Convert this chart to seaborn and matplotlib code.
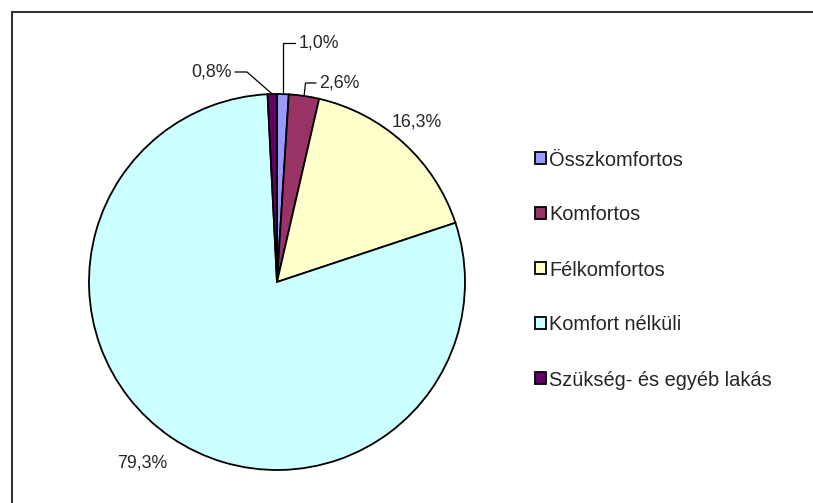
"""Lakásállomány komfortfokozat szerint - kördiagram."""

import matplotlib.pyplot as plt
import matplotlib.lines as mlines
import numpy as np
import seaborn as sns

categories = [
    "Összkomfortos",
    "Komfortos",
    "Félkomfortos",
    "Komfort nélküli",
    "Szükség- és egyéb lakás",
]
shares = [1.0, 2.6, 16.3, 79.3, 0.8]
colors = ["#9999FF", "#993366", "#FFFFCC", "#CCFFFF", "#660066"]

sns.set_theme(style="white")
plt.rcParams["font.family"] = ["Liberation Sans", "DejaVu Sans"]

W, H = 813, 503
fig = plt.figure(figsize=(W / 100, H / 100), dpi=100)

# pie centre (277, 282) px, radius 188 px
cx, cy, r = 277, 282, 188
ax = fig.add_axes([(cx - r) / W, (H - cy - r) / H, 2 * r / W, 2 * r / H])
wedges, _ = ax.pie(
    shares,
    colors=colors,
    startangle=90,
    counterclock=False,
    radius=1.0,
    wedgeprops=dict(edgecolor="black", linewidth=1.3),
)
ax.set_xlim(-1, 1)
ax.set_ylim(-1, 1)
ax.set_aspect("auto")
ax.axis("off")


def px(x, y):
    return (x - cx) / r, (cy - y) / r


def edge_point(w):
    ang = np.deg2rad((w.theta1 + w.theta2) / 2)
    return np.cos(ang), np.sin(ang)


def label(v):
    return f"{v:.1f}%".replace(".", ",")


fs = 12.8
# 1,0% - vertical leader then horizontal
x0, y0 = edge_point(wedges[0])
ex, ey = px(0, 42.7)
hx, _ = px(295, 0)
ax.plot([x0, x0, hx], [y0, ey, ey], color="black", lw=0.9, clip_on=False)
ax.text(px(299, 0)[0], ey, label(shares[0]), fontsize=fs, va="center", ha="left")

# 2,6%
x1, y1 = edge_point(wedges[1])
bx, by = px(305.5, 83)
hx, _ = px(316, 0)
ax.plot([x1, bx, hx], [y1, by, by], color="black", lw=0.9, clip_on=False)
ax.text(px(319, 0)[0], by, label(shares[1]), fontsize=fs, va="center", ha="left")

# 0,8%
x4, y4 = edge_point(wedges[4])
bx, by = px(247, 72)
hx, _ = px(235, 0)
ax.plot([x4, bx, hx], [y4, by, by], color="black", lw=0.9, clip_on=False)
ax.text(px(232, 0)[0], by, label(shares[4]), fontsize=fs, va="center", ha="right")

# 16,3% and 79,3% without leaders
tx, ty = px(417, 122)
ax.text(tx, ty, label(shares[2]), fontsize=fs, va="center", ha="center")
tx, ty = px(142, 463)
ax.text(tx, ty, label(shares[3]), fontsize=fs, va="center", ha="center")

fig.legend(
    wedges,
    categories,
    loc="center left",
    bbox_to_anchor=(535 / W, 1 - 270 / H),
    frameon=False,
    fontsize=14.4,
    handlelength=0.55,
    handleheight=0.55,
    handletextpad=0.15,
    labelspacing=1.8,
    borderpad=0,
    borderaxespad=0,
)

# chart area border (only top and left edges are inside the picture)
fig.add_artist(mlines.Line2D([11.5 / W, 1.0], [1 - 11.5 / H] * 2, color="#333333", lw=1.5))
fig.add_artist(mlines.Line2D([11.5 / W] * 2, [0.0, 1 - 11.5 / H], color="#333333", lw=1.5))

fig.savefig("out.png", dpi=100)
